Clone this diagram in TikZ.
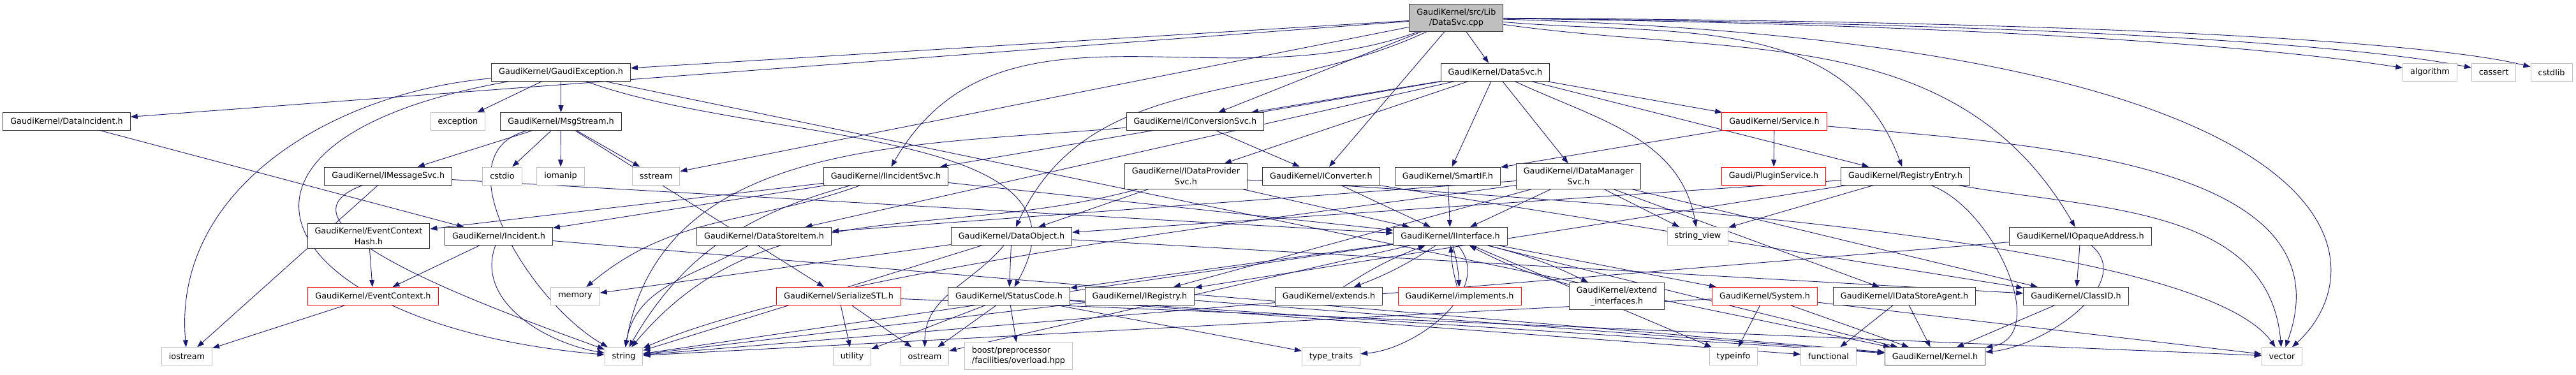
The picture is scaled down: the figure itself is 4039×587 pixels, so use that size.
\documentclass[tikz,border=0pt]{standalone}
\usepackage{fontspec}
\setmainfont{DejaVu Sans}
\usetikzlibrary{arrows.meta}
\definecolor{edgeblue}{HTML}{191970}
\definecolor{sysgray}{HTML}{BFBFBF}
\pgfdeclarelayer{bg}
\pgfsetlayers{bg,main}
\tikzset{
  hdr/.style={shape=rectangle,draw=black!80,fill=white,line width=1pt,inner xsep=11.5pt,inner ysep=6.5pt,minimum height=28pt,align=center,font=\fontsize{12.8}{16.8}\selectfont},
  sys/.style={hdr,draw=sysgray},
  trunc/.style={hdr,draw=red},
  rootfile/.style={hdr,fill=sysgray},
  dep/.style={draw=edgeblue,line width=0.9pt,-{Triangle[length=11pt,width=8pt]}}
}

\begin{document}
\begin{tikzpicture}[x=1pt,y=-1pt]
			\useasboundingbox (0,0) rectangle (4039,587);
			% row 1
			\node[rootfile] (src) at (2283.4,28) {GaudiKernel/src/Lib\\/DataSvc.cpp};
			% row 2
			\node[hdr] (gexc) at (879.5,113.3) {GaudiKernel/GaudiException.h};
			\node[hdr] (dsvch) at (2344.5,113.3) {GaudiKernel/DataSvc.h};
			\node[sys] (algorithm) at (3810,113.3) {algorithm};
			\node[sys] (cassert) at (3910,113.3) {cassert};
			\node[sys] (cstdlib) at (4000.5,113.3) {cstdlib};
			% row 3
			\node[hdr] (dinc) at (104.5,190.7) {GaudiKernel/DataIncident.h};
			\node[sys] (exception) at (718,190.7) {exception};
			\node[hdr] (msgs) at (879.5,190.7) {GaudiKernel/MsgStream.h};
			\node[hdr] (iconvsvc) at (1873.8,190.7) {GaudiKernel/IConversionSvc.h};
			\node[trunc] (service) at (2782,190.7) {GaudiKernel/Service.h};
			% row 4
			\node[hdr] (imsgsvc) at (608.7,276) {GaudiKernel/IMessageSvc.h};
			\node[sys] (cstdio) at (787.5,276) {cstdio};
			\node[sys] (iomanip) at (879,276) {iomanip};
			\node[sys] (sstream) at (1028.7,276) {sstream};
			\node[hdr] (iincsvc) at (1389,276) {GaudiKernel/IIncidentSvc.h};
			\node[hdr] (idpsvc) at (1859.4,276.5) {GaudiKernel/IDataProvider\\Svc.h};
			\node[hdr] (iconv) at (2071.5,276) {GaudiKernel/IConverter.h};
			\node[hdr] (smartif) at (2270,276) {GaudiKernel/SmartIF.h};
			\node[hdr] (idmsvc) at (2475,276.5) {GaudiKernel/IDataManager\\Svc.h};
			\node[trunc] (plugin) at (2781,276) {Gaudi/PluginService.h};
			\node[hdr] (regentry) at (2987.5,276) {GaudiKernel/RegistryEntry.h};
			% row 5
			\node[hdr] (echash) at (578,370) {GaudiKernel/EventContext\\Hash.h};
			\node[hdr] (incident) at (782,370.5) {GaudiKernel/Incident.h};
			\node[hdr] (dsitem) at (1198,370.5) {GaudiKernel/DataStoreItem.h};
			\node[hdr] (dobj) at (1586,370.5) {GaudiKernel/DataObject.h};
			\node[hdr] (iiface) at (2274,370.5) {GaudiKernel/IInterface.h};
			\node[sys] (strview) at (2662,370.5) {string\_view};
			\node[hdr] (iopaddr) at (3262,370.5) {GaudiKernel/IOpaqueAddress.h};
			% row 6
			\node[trunc] (evctx) at (585,464.5) {GaudiKernel/EventContext.h};
			\node[sys] (memory) at (902,464.5) {memory};
			\node[trunc] (sstl) at (1315,464.5) {GaudiKernel/SerializeSTL.h};
			\node[hdr] (stcode) at (1582,464.5) {GaudiKernel/StatusCode.h};
			\node[hdr] (ireg) at (1787,464.5) {GaudiKernel/IRegistry.h};
			\node[hdr] (extends) at (2083.5,464.5) {GaudiKernel/extends.h};
			\node[trunc] (impl) at (2288.5,464.5) {GaudiKernel/implements.h};
			\node[hdr] (extif) at (2535,464.5) {GaudiKernel/extend\\\_interfaces.h};
			\node[trunc] (system) at (2767,464.5) {GaudiKernel/System.h};
			\node[hdr] (idsagent) at (2986,464.5) {GaudiKernel/IDataStoreAgent.h};
			\node[hdr] (classid) at (3255,464.5) {GaudiKernel/ClassID.h};
			% row 7
			\node[sys] (iostream) at (293,558.8) {iostream};
			\node[sys] (string) at (978,558.8) {string};
			\node[sys] (utility) at (1336,558.8) {utility};
			\node[sys] (ostream) at (1450,558.8) {ostream};
			\node[sys,align=left] (boost) at (1597,558) {boost/preprocessor\\/facilities/overload.hpp};
			\node[sys] (typetr) at (2087,558.8) {type\_traits};
			\node[sys] (typeinfo) at (2718,558.8) {typeinfo};
			\node[sys] (functional) at (2867,558.8) {functional};
			\node[hdr] (kernel) at (3034,558.8) {GaudiKernel/Kernel.h};
			\node[sys] (vector) at (3578,558.8) {vector};

			\begin{pgfonlayer}{bg}
			% DataSvc.cpp
			\draw[dep] (src) -- (dinc);
			\draw[dep] (src) -- (gexc);
			\draw[dep] (src) -- (sstream);
			\draw[dep] (src) to[out=200,in=60] (iincsvc);
			\draw[dep] (src) to[out=205,in=65] (dobj);
			\draw[dep] (src) -- (iconvsvc);
			\draw[dep] (src) -- (iconv);
			\draw[dep] (src) -- (dsvch);
			\draw[dep] (src) to[out=-5,in=110] (regentry);
			\draw[dep] (src) to[out=-8,in=120] (iopaddr);
			\draw[dep] (src) .. controls (3200,40) and (3600,80) .. (algorithm);
			\draw[dep] (src) .. controls (3300,38) and (3720,75) .. (cassert);
			\draw[dep] (src) .. controls (3400,34) and (3840,72) .. (cstdlib);
			\draw[dep] (src) .. controls (3730,70) and (3730,420) .. (vector);
			% DataSvc.h
			\draw[dep] (dsvch) -- (iconvsvc);
			\draw[dep] (dsvch) -- (iincsvc);
			\draw[dep] (dsvch) -- (dsitem);
			\draw[dep] (dsvch) -- (idpsvc);
			\draw[dep] (dsvch) -- (smartif);
			\draw[dep] (dsvch) -- (idmsvc);
			\draw[dep] (dsvch) to[out=-25,in=100] (strview);
			\draw[dep] (dsvch) -- (regentry);
			\draw[dep] (dsvch) -- (service);
			% GaudiException.h
			\draw[dep] (gexc) -- (exception);
			\draw[dep] (gexc) -- (msgs);
			\draw[dep] (gexc) to[out=185,in=95] (iostream);
			\draw[dep] (gexc) to[out=190,in=175,looseness=3] (string);
			\draw[dep] (gexc) to[out=-20,in=60] (stcode);
			\draw[dep] (gexc) -- (kernel);
			% DataIncident.h
			\draw[dep] (dinc) -- (incident);
			% MsgStream.h
			\draw[dep] (msgs) -- (imsgsvc);
			\draw[dep] (msgs) -- (cstdio);
			\draw[dep] (msgs) -- (iomanip);
			\draw[dep] (msgs) -- (sstream);
			\draw[dep] (msgs) -- (sstl);
			\draw[dep] (msgs) to[out=195,in=150] (string);
			% IConversionSvc.h
			\draw[dep] (iconvsvc) -- (iconv);
			\draw[dep] (iconvsvc) to[out=185,in=80] (string);
			% Service.h
			\draw[dep] (service) -- (plugin);
			\draw[dep] (service) -- (smartif);
			\draw[dep] (service) to[out=-5,in=70] (vector);
			% IMessageSvc.h
			\draw[dep] (imsgsvc) -- (iiface);
			\draw[dep] (imsgsvc) -- (iostream);
			\draw[dep] (imsgsvc) to[out=200,in=160] (string);
			% IIncidentSvc.h
			\draw[dep] (iincsvc) -- (echash);
			\draw[dep] (iincsvc) -- (incident);
			\draw[dep] (iincsvc) to[out=200,in=40] (memory);
			\draw[dep] (iincsvc) to[out=195,in=60] (string);
			\draw[dep] (iincsvc) -- (iiface);
			% IDataProviderSvc.h
			\draw[dep] (idpsvc) -- (dobj);
			\draw[dep] (idpsvc) -- (iiface);
			\draw[dep] (idpsvc) to[out=195,in=50] (string);
			\draw[dep] (idpsvc) .. controls (2600,320) and (3450,380) .. (vector);
			% IConverter.h
			\draw[dep] (iconv) -- (iiface);
			\draw[dep] (iconv) -- (classid);
			% SmartIF.h
			\draw[dep] (smartif) -- (iiface);
			% IDataManagerSvc.h
			\draw[dep] (idmsvc) -- (iiface);
			\draw[dep] (idmsvc) -- (strview);
			\draw[dep] (idmsvc) -- (dsitem);
			\draw[dep] (idmsvc) -- (ireg);
			\draw[dep] (idmsvc) -- (classid);
			\draw[dep] (idmsvc) -- (idsagent);
			\draw[dep] (idmsvc) .. controls (2100,330) and (1300,420) .. (string);
			% RegistryEntry.h
			\draw[dep] (regentry) -- (strview);
			\draw[dep] (regentry) -- (ireg);
			\draw[dep] (regentry) -- (dobj);
			\draw[dep] (regentry) to[out=-20,in=10] (kernel);
			\draw[dep] (regentry) to[out=-10,in=95] (vector);
			% EventContextHash.h
			\draw[dep] (echash) -- (evctx);
			% Incident.h
			\draw[dep] (incident) -- (evctx);
			\draw[dep] (incident) to[out=-110,in=170] (string);
			\draw[dep] (incident) -- (kernel);
			% DataStoreItem.h
			\draw[dep] (dsitem) to[out=-150,in=80] (string);
			% DataObject.h
			\draw[dep] (dobj) -- (stcode);
			\draw[dep] (dobj) to[out=-130,in=90] (ostream);
			\draw[dep] (dobj) -- (string);
			\draw[dep] (dobj) -- (memory);
			\draw[dep] (dobj) -- (classid);
			% IInterface.h
			\draw[dep] (iiface) to[bend left=6] (extends);
			\draw[dep] (iiface) to[bend left=6] (impl);
			\draw[dep] (iiface) to[bend left=6] (extif);
			\draw[dep] (iiface) to[out=-50,in=5] (typetr);
			\draw[dep] (iiface) -- (kernel);
			\draw[dep] (iiface) -- (stcode);
			\draw[dep] (iiface) -- (system);
			\draw[dep] (iiface) -- (ostream);
			\draw[dep] (iiface) -- (string);
			\draw[dep] (iiface) -- (typeinfo);
			% IOpaqueAddress.h
			\draw[dep] (iopaddr) -- (classid);
			\draw[dep] (iopaddr) to[out=-40,in=5] (kernel);
			\draw[dep] (iopaddr) -- (string);
			% EventContext.h
			\draw[dep] (evctx) -- (iostream);
			% SerializeSTL.h
			\draw[dep] (sstl) -- (utility);
			\draw[dep] (sstl) -- (ostream);
			\draw[dep] (sstl) -- (vector);
			% StatusCode.h
			\draw[dep] (stcode) -- (utility);
			\draw[dep] (stcode) -- (ostream);
			\draw[dep] (stcode) -- (boost);
			\draw[dep] (stcode) -- (typetr);
			\draw[dep] (stcode) -- (kernel);
			\draw[dep] (stcode) -- (functional);
			% IRegistry.h
			\draw[dep] (ireg) -- (string);
			\draw[dep] (ireg) -- (kernel);
			% extends.h, implements.h, extend_interfaces.h
			\draw[dep] (extends) to[bend left=6] (iiface);
			\draw[dep] (impl) to[bend left=6] (iiface);
			\draw[dep] (extif) to[bend left=6] (iiface);
			% System.h
			\draw[dep] (system) -- (typeinfo);
			\draw[dep] (system) -- (kernel);
			\draw[dep] (system) -- (string);
			\draw[dep] (system) -- (vector);
			% IDataStoreAgent.h
			\draw[dep] (idsagent) -- (functional);
			\draw[dep] (idsagent) -- (kernel);
			% ClassID.h
			\draw[dep] (classid) -- (kernel);
			\end{pgfonlayer}
		\end{tikzpicture}
\end{document}
